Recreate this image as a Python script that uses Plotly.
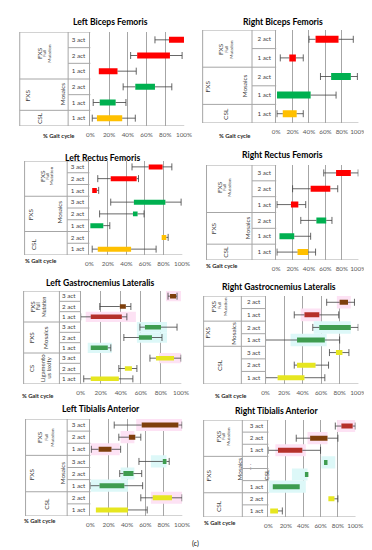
import plotly.graph_objects as go

W, H = 372, 550

# ---------------- data (% of gait cycle) ----------------
# Left Biceps Femoris
lbf_rows = ["FM|3 act", "FM|2 act", "FM|1 act", "MO|2 act", "MO|1 act", "CS|1 act"]
lbf_start = [84, 50, 9, 48, 10, 7]
lbf_end = [100, 85, 29, 69, 27, 34]
lbf_lo = [69, 43, None, 35, 3, 2]
lbf_hi = [None, 98, 49, 87, 38, 48]

# Right Biceps Femoris
rbf_rows = ["FM|2 act", "FM|1 act", "MO|2 act", "MO|1 act", "CS|1 act"]
rbf_start = [48, 16, 67, 1, 8]
rbf_end = [76, 24, 91, 42, 25]
rbf_lo = [40, 5, 54, None, 1]
rbf_hi = [94, 33, 99, 73, 33]

# Left Rectus Femoris
lrf_rows = ["FM|3 act", "FM|2 act", "FM|1 act", "MO|3 act", "MO|2 act", "MO|1 act", "CS|2 act", "CS|1 act"]
lrf_start = [64, 23, 3, 48, 47, 1, 78, 9]
lrf_end = [79, 51, 8, 82, 52, 15, 83, 45]
lrf_lo = [46, 9, None, 23, 11, None, None, 3]
lrf_hi = [89, 53, 10, 99, 59, 22, 85, 72]

# Right Rectus Femoris
rrf_rows = ["FM|3 act", "FM|2 act", "FM|1 act", "MO|2 act", "MO|1 act", "CS|1 act"]
rrf_start = [73, 42, 18, 49, 4, 26]
rrf_end = [91, 66, 27, 61, 22, 39]
rrf_lo = [58, 20, 1, 30, None, 1]
rrf_hi = [100, 75, 36, 68, 42, 48]

# Left Gastrocnemius Lateralis
lgl_rows = ["FM|3 act", "FM|2 act", "FM|1 act", "MO|3 act", "MO|2 act", "MO|1 act", "CS|3 act", "CS|2 act", "CS|1 act"]
lgl_start = [89, 39, 10, 64, 58, 10, 75, 44, 10]
lgl_end = [95, 45, 41, 80, 71, 27, 93, 51, 38]
lgl_lo = [87, 19, 0, 59, 43, None, 69, 38, 3]
lgl_hi = [96, 50, 46, 96, 81, 30, 100, 56, 52]
lgl_hl_rows = ["FM|3 act", "FM|1 act", "MO|3 act", "MO|2 act", "MO|1 act", "CS|3 act"]
lgl_hl_start = [85, 5, 56, 56, 7, 78]
lgl_hl_end = [100, 55, 86, 86, 31, 100]

# Right Gastrocnemius Lateralis
rgl_rows = ["FM|2 act", "FM|1 act", "MO|2 act", "MO|1 act", "CS|3 act", "CS|2 act", "CS|1 act"]
rgl_start = [80, 42, 58, 34, 76, 34, 13]
rgl_end = [89, 58, 92, 64, 83, 54, 42]
rgl_lo = [66, 31, 51, 0, 69, 31, 0]
rgl_hi = [96, 79, 100, 80, 90, 68, 64]
rgl_hl_rows = ["FM|2 act", "FM|1 act", "MO|2 act", "MO|1 act"]
rgl_hl_start = [77, 38, 52, 27]
rgl_hl_end = [92, 60, 92, 66]

# Left Tibialis Anterior
lta_rows = ["FM|3 act", "FM|2 act", "FM|1 act", "MO|3 act", "MO|2 act", "MO|1 act", "CS|2 act", "CS|1 act"]
lta_start = [56, 42, 9, 79, 36, 10, 68, 6]
lta_end = [96, 49, 23, 83, 47, 37, 89, 41]
lta_lo = [26, 31, 1, 53, 32, 0, 55, None]
lta_hi = [100, 55, 33, 86, 56, 57, 100, 62]
lta_hl_rows = ["FM|3 act", "FM|2 act", "FM|1 act", "MO|3 act", "MO|2 act", "MO|1 act", "CS|2 act"]
lta_hl_start = [50, 33, 0, 66, 33, 0, 66]
lta_hl_end = [100, 48, 32, 83, 48, 41, 100]

# Right Tibialis Anterior
rta_rows = ["FM|3 act", "FM|2 act", "FM|1 act", "MO|3 act", "MO|2 act", "MO|1 act", "CS|2 act", "CS|1 act"]
rta_labels = ["3 act", "2 act", "1 act", "", "", "1 act", "2 act", "1 act"]
rta_start = [84, 48, 11, 64, 42, 5, 69, 2]
rta_end = [97, 68, 39, 68, 46, 36, 76, 11]
rta_lo = [77, 32, 0, None, None, None, None, None]
rta_hi = [100, 80, 60, None, None, None, 80, 16]
rta_hl_rows = ["FM|3 act", "FM|2 act", "FM|1 act", "MO|3 act", "MO|2 act", "MO|1 act"]
rta_hl_start = [79, 45, 8, 61, 27, 0]
rta_hl_end = [100, 68, 43, 77, 45, 43]

x_ticks = [0, 20, 40, 60, 80, 100]
x_ticktext = ["0%", "20%", "40%", "60%", "80%", "100%"]

# ---------------- styles ----------------
RED, GREEN, GOLD = "#FF0000", "#00B050", "#FFC000"
BROWN, REDBROWN, DGREEN, YEL = "#7E3F0C", "#B5302A", "#3E9C4F", "#E6E620"
PINK, CYAN = "#FDE2F4", "#DDF8F8"
GRID = "#A6A6A6"
FONT = "Lato"

def grp_colors(rows, fm, mo, cs):
    out, i = [], 0
    for r in rows:
        g = r.split("|")[0]
        if g == "FM":
            out.append(fm[i] if isinstance(fm, list) else fm)
            i += 1
        elif g == "MO":
            out.append(mo)
        else:
            out.append(cs)
    return out

panels = [
    dict(title="Left Biceps Femoris", rows=lbf_rows, start=lbf_start, end=lbf_end, lo=lbf_lo, hi=lbf_hi,
         colors=grp_colors(lbf_rows, RED, GREEN, GOLD), px=(81, 178), py=(24, 118), border=8, split=58,
         tpos=(102, 14), gait=(48, 128), bar_px=6,
         glabels=[("FXS", 29, 45, 6.5), ("Full", 34, 45, 4.5), ("Mutation", 39, 45, 4.5),
                  ("FXS", 16, 87, 6.5), ("Mosaics", 52, 86, 6.3), ("CSL", 29, 110, 6.5)]),
    dict(title="Right Biceps Femoris", rows=rbf_rows, start=rbf_start, end=rbf_end, lo=rbf_lo, hi=rbf_hi,
         colors=grp_colors(rbf_rows, RED, GREEN, GOLD), px=(273, 358), py=(22, 115), border=197, split=248,
         tpos=(280, 14), gait=(230, 128), bar_px=7,
         glabels=[("FXS", 215, 41, 6.5), ("Full", 221, 41, 4.5), ("Mutation", 226, 41, 4.5),
                  ("FXS", 202, 78, 6.5), ("Mosaics", 240, 78, 6.3), ("CSL", 220, 106, 6.5)]),
    dict(title="Left Rectus Femoris", rows=lrf_rows, start=lrf_start, end=lrf_end, lo=lrf_lo, hi=lrf_hi,
         colors=grp_colors(lrf_rows, RED, GREEN, GOLD), px=(80, 176), py=(153, 247), border=13, split=57,
         tpos=(94, 150), gait=(29, 252), bar_px=5,
         glabels=[("FXS", 32, 168, 6.5), ("Full", 37, 168, 4.5), ("Mutation", 41.5, 168, 4.5),
                  ("FXS", 20, 206, 6.5), ("Mosaics", 50, 204, 6.3), ("CSL", 22, 236, 6.5)]),
    dict(title="Right Rectus Femoris", rows=rrf_rows, start=rrf_start, end=rrf_end, lo=rrf_lo, hi=rrf_hi,
         colors=grp_colors(rrf_rows, RED, GREEN, GOLD), px=(273, 358), py=(157, 252), border=201, split=248,
         tpos=(279, 147), gait=(216, 257), bar_px=6,
         glabels=[("FXS", 214, 179, 6.5), ("Full", 219, 179, 4.5), ("Mutation", 224, 179, 4.5),
                  ("FXS", 208, 220, 6.5), ("Mosaics", 243, 220, 6.3), ("CSL", 221, 244, 6.5)]),
    dict(title="Left Gastrocnemius Lateralis", rows=lgl_rows, start=lgl_start, end=lgl_end, lo=lgl_lo, hi=lgl_hi,
         hl=(lgl_hl_rows, lgl_hl_start, lgl_hl_end),
         colors=grp_colors(lgl_rows, [BROWN, BROWN, REDBROWN], DGREEN, YEL), px=(71, 175), py=(283, 376),
         border=12, split=49, tpos=(91, 275), gait=(26, 387), bar_px=4.5,
         glabels=[("FXS", 21, 298, 6.3), ("Full", 27, 298, 5), ("Mutation", 33, 298, 5),
                  ("FXS", 20, 329, 6.3), ("Mosaics", 34, 329, 6.3), ("CS", 20, 360, 6.3),
                  ("Ligamento", 31, 360, 6), ("us laxity", 37, 360, 6)]),
    dict(title="Right Gastrocnemius Lateralis", rows=rgl_rows, start=rgl_start, end=rgl_end, lo=rgl_lo, hi=rgl_hi,
         hl=(rgl_hl_rows, rgl_hl_start, rgl_hl_end),
         colors=grp_colors(rgl_rows, [BROWN, REDBROWN], DGREEN, YEL), px=(262, 358), py=(288, 376),
         border=198, split=237, tpos=(276, 279), gait=(226, 387), bar_px=5,
         glabels=[("FXS", 208, 298, 6.5), ("Full", 214, 298, 4.5), ("Mutation", 220, 298, 4.5),
                  ("FXS", 201, 325, 6.5), ("Mosaics", 228, 325, 6.3), ("CSL", 214, 357, 6.5)]),
    dict(title="Left Tibialis Anterior", rows=lta_rows, start=lta_start, end=lta_end, lo=lta_lo, hi=lta_hi,
         hl=(lta_hl_rows, lta_hl_start, lta_hl_end),
         colors=grp_colors(lta_rows, [BROWN, BROWN, BROWN], DGREEN, YEL), px=(81, 176), py=(411, 508),
         border=14, split=57, tpos=(92, 401), gait=(28, 512), bar_px=5,
         glabels=[("FXS", 28, 429, 6.5), ("Full", 35, 429, 4.5), ("Mutation", 41, 429, 4.5),
                  ("FXS", 20, 466, 6.5), ("Mosaics", 52, 465, 6.3), ("CSL", 35, 496, 6.5)]),
    dict(title="Right Tibialis Anterior", rows=rta_rows, labels=rta_labels, start=rta_start, end=rta_end,
         lo=rta_lo, hi=rta_hi, hl=(rta_hl_rows, rta_hl_start, rta_hl_end),
         colors=grp_colors(rta_rows, [REDBROWN, BROWN, REDBROWN], DGREEN, YEL), px=(265, 355), py=(412, 509),
         border=198, split=238, tpos=(273, 403), gait=(214, 514), bar_px=5,
         glabels=[("FXS", 213, 428, 6.5), ("Full", 218, 428, 4.5), ("Mutation", 223, 428, 4.5),
                  ("FXS", 203, 467, 6.5), ("Mosaics", 235, 461, 6.3), ("CSL", 262, 467, 6.3),
                  (". . .", 245, 459, 5), ("CSL", 214, 498, 6.5)]),
]

def PX(v):
    return v / W

def PY(v):
    return 1 - v / H

fig = go.Figure()
shapes, annotations = [], []
layout = {}

for k, p in enumerate(panels, start=1):
    xa = "x" if k == 1 else f"x{k}"
    ya = "y" if k == 1 else f"y{k}"
    rows = p["rows"]
    n = len(rows)
    labels = p.get("labels") or [r.split("|")[1] for r in rows]
    row_h = (p["py"][1] - p["py"][0]) / n
    bw = p["bar_px"] / row_h

    # background highlight ranges
    if p.get("hl"):
        hr, hs, he = p["hl"]
        fig.add_trace(go.Bar(
            orientation="h", y=hr, base=hs, x=[e - s for s, e in zip(hs, he)],
            width=1.0, marker=dict(color=[CYAN if r.startswith("MO") else PINK for r in hr], line_width=0),
            xaxis=xa, yaxis=ya, showlegend=False, hoverinfo="skip"))

    # activation bars
    fig.add_trace(go.Bar(
        orientation="h", y=rows, base=p["start"], x=[e - s for s, e in zip(p["start"], p["end"])],
        width=bw, marker=dict(color=p["colors"], line_width=0),
        xaxis=xa, yaxis=ya, showlegend=False))

    # whiskers
    wx, wy, cx, cy = [], [], [], []
    for r, s, e, lo, hi in zip(rows, p["start"], p["end"], p["lo"], p["hi"]):
        if lo is not None:
            wx += [lo, s, None]
            wy += [r, r, None]
            cx.append(lo)
            cy.append(r)
        if hi is not None:
            wx += [e, hi, None]
            wy += [r, r, None]
            cx.append(hi)
            cy.append(r)
    fig.add_trace(go.Scatter(x=wx, y=wy, mode="lines", line=dict(color="#404040", width=0.8),
                             xaxis=xa, yaxis=ya, showlegend=False, hoverinfo="skip"))
    fig.add_trace(go.Scatter(x=cx, y=cy, mode="markers",
                             marker=dict(symbol="line-ns", size=5, line=dict(color="#404040", width=0.8)),
                             xaxis=xa, yaxis=ya, showlegend=False, hoverinfo="skip"))

    layout[f"xaxis{'' if k == 1 else k}"] = dict(
        domain=[PX(p["px"][0]), PX(p["px"][1])], anchor=ya, range=[0, 100.3],
        tickvals=x_ticks, ticktext=x_ticktext, showgrid=True, gridcolor=GRID, gridwidth=1,
        zeroline=False, showline=False, ticks="", ticklabelstandoff=4,
        tickfont=dict(size=6.3, color="#595959", family=FONT), fixedrange=True)
    layout[f"yaxis{'' if k == 1 else k}"] = dict(
        domain=[PY(p["py"][1]), PY(p["py"][0])], anchor=xa, type="category",
        categoryorder="array", categoryarray=rows, range=[n - 0.5, -0.5],
        tickvals=rows, ticktext=labels, showgrid=False, zeroline=False,
        showline=True, linecolor=GRID, linewidth=1, ticks="", ticklabelstandoff=3,
        tickfont=dict(size=6.2, color="#404040", family=FONT), fixedrange=True)

    yref = ya
    line = dict(color=GRID, width=1)
    ax_x = PX(p["px"][0])
    # vertical borders of label area
    for xv in (p["border"], p["split"]):
        shapes.append(dict(type="line", xref="paper", yref=yref, x0=PX(xv), x1=PX(xv),
                           y0=-0.5, y1=n - 0.5, line=line))
    # top line & bottom axis line
    shapes.append(dict(type="line", xref="paper", yref=yref, x0=PX(p["border"]), x1=ax_x,
                       y0=-0.5, y1=-0.5, line=line))
    shapes.append(dict(type="line", xref="paper", yref=yref, x0=PX(p["border"]), x1=PX(p["px"][1]),
                       y0=n - 0.5, y1=n - 0.5, line=line))
    # row separators
    for i in range(1, n):
        same = rows[i].split("|")[0] == rows[i - 1].split("|")[0]
        x0 = PX(p["split"]) if same else PX(p["border"])
        shapes.append(dict(type="line", xref="paper", yref=yref, x0=x0, x1=ax_x,
                           y0=i - 0.5, y1=i - 0.5, line=line))

    # title
    annotations.append(dict(text=f"<b>{p['title']}</b>", x=PX(p["tpos"][0]), y=PY(p["tpos"][1]),
                            xref="paper", yref="paper", showarrow=False, xanchor="center", yanchor="middle",
                            font=dict(size=8.6, color="#000000", family=FONT)))
    # % Gait cycle
    annotations.append(dict(text="<b>% Gait cycle</b>", x=PX(p["gait"][0]), y=PY(p["gait"][1]),
                            xref="paper", yref="paper", showarrow=False, xanchor="center", yanchor="middle",
                            font=dict(size=5.8, color="#262626", family=FONT)))
    # group labels
    for txt, gx, gy, sz in p["glabels"]:
        annotations.append(dict(text=txt, x=PX(gx), y=PY(gy), xref="paper", yref="paper",
                                showarrow=False, textangle=-90, xanchor="center", yanchor="middle",
                                font=dict(size=sz, color="#404040", family=FONT)))

annotations.append(dict(text="(c)", x=PX(190), y=PY(542), xref="paper", yref="paper", showarrow=False,
                        font=dict(size=7, color="#000000", family=FONT)))

fig.update_layout(
    width=W, height=H, margin=dict(l=0, r=0, t=0, b=0),
    paper_bgcolor="white", plot_bgcolor="rgba(0,0,0,0)",
    barmode="overlay", showlegend=False,
    shapes=shapes, annotations=annotations, font=dict(family=FONT),
    **layout)

fig.write_html("out.html", config={"displayModeBar": False})
